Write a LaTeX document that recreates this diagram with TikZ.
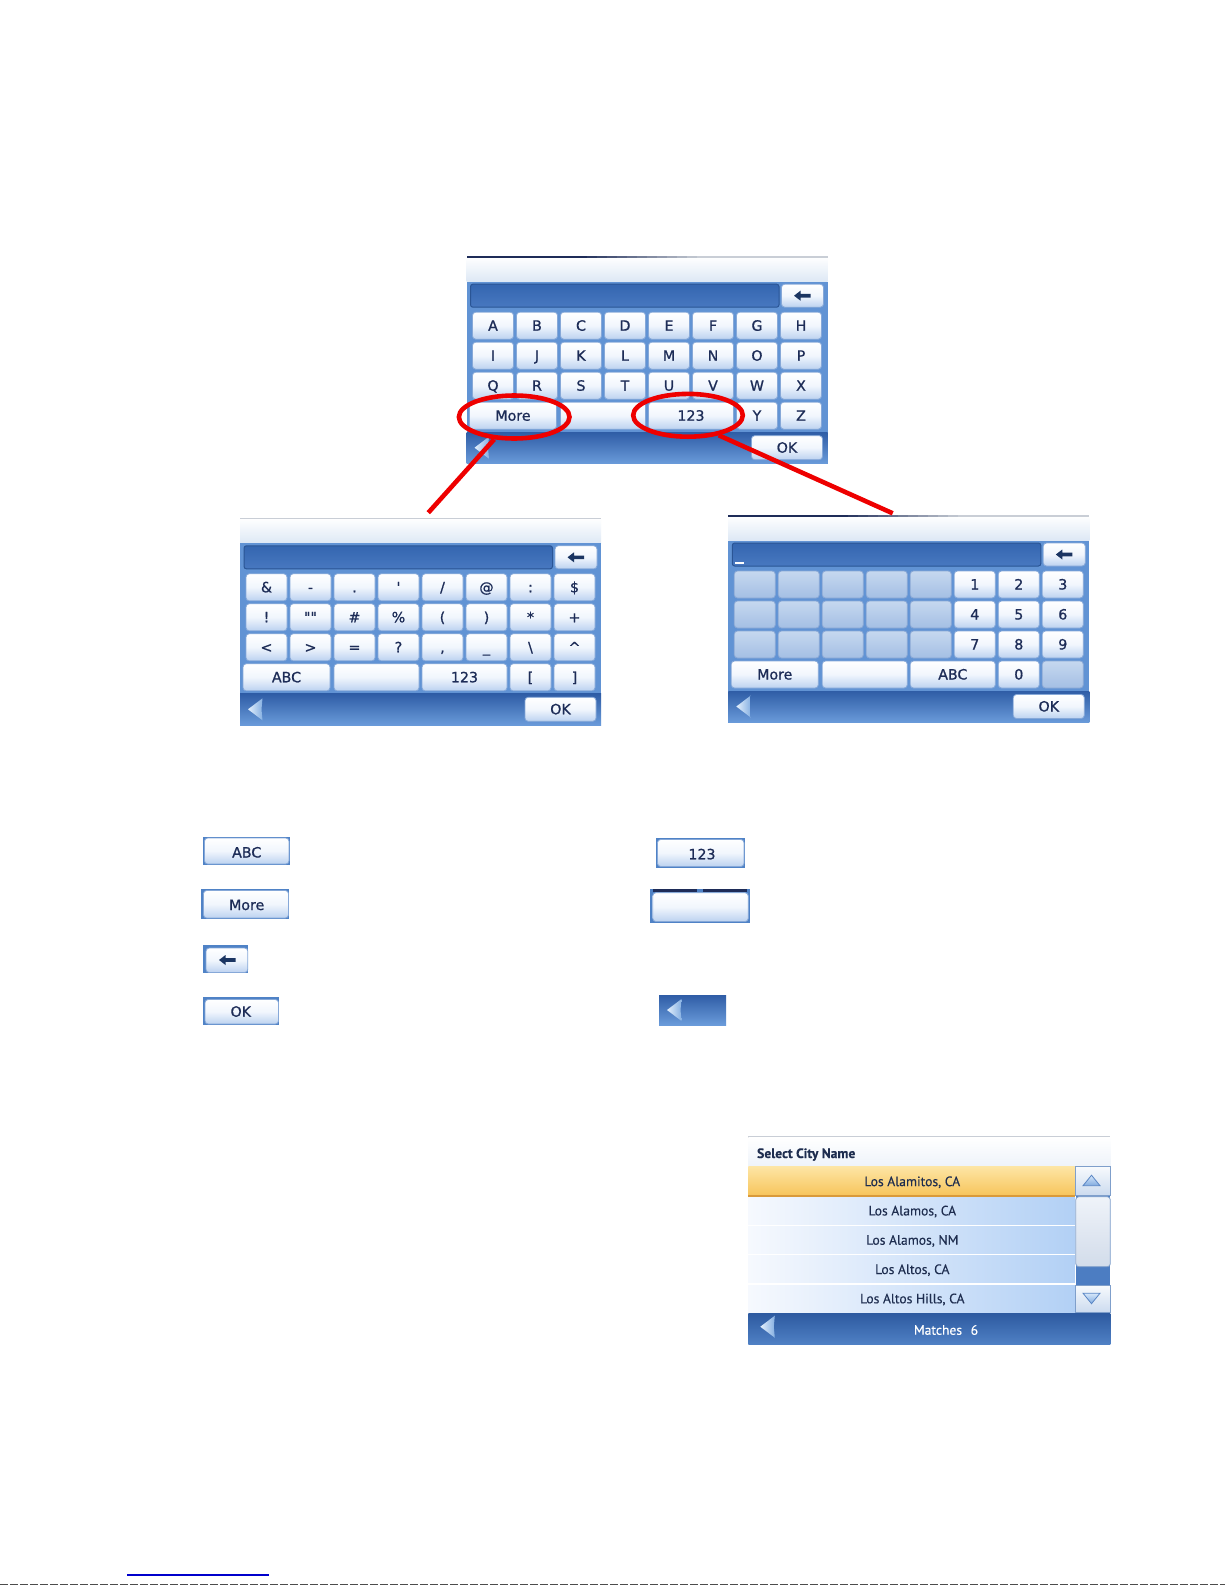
\documentclass[tikz,border=0pt]{standalone}
\usepackage{fontspec}
\setmainfont{DejaVu Sans}
\newfontfamily\keyfont{DejaVu Sans}[Ligatures=TeXOff, FakeBold=0.9]
\newfontfamily\listfont{PT Sans}[FakeBold=0.3]
\usetikzlibrary{shapes.geometric}

\definecolor{hdrbot}{HTML}{DDE8F5}
\definecolor{bodyblue}{HTML}{6193D4}
\definecolor{barTop}{HTML}{2F5DA6}
\definecolor{barBot}{HTML}{6A9BDA}
\definecolor{inputTop}{HTML}{3466B0}
\definecolor{inputBot}{HTML}{4878C0}
\definecolor{inputEdge}{HTML}{2A5595}
\definecolor{keyedge}{HTML}{86A8D8}
\definecolor{keymid}{HTML}{F1F6FD}
\definecolor{keybot}{HTML}{BCD2F0}
\definecolor{keytext}{HTML}{1D2C57}
\definecolor{gktop}{HTML}{C6D8EF}
\definecolor{gkbot}{HTML}{A4BFE4}
\definecolor{gkedge}{HTML}{8AA8D5}
\definecolor{arrownavy}{HTML}{1B3562}
\definecolor{tril}{HTML}{E4F0FC}
\definecolor{trid}{HTML}{86B0E2}
\definecolor{topnavy}{HTML}{1E2C58}
\definecolor{toplight}{HTML}{C9CED6}
\definecolor{redc}{HTML}{EE0000}
\definecolor{legframe}{HTML}{4F82C6}
\definecolor{listblue}{HTML}{B2D0F5}
\definecolor{listwhite}{HTML}{F6F9FE}
\definecolor{yTop}{HTML}{FDE5A4}
\definecolor{yBot}{HTML}{F7C45A}
\definecolor{yEdge}{HTML}{D99A3A}
\definecolor{scTop}{HTML}{F7FAFD}
\definecolor{scBot}{HTML}{CCDBEF}
\definecolor{scEdge}{HTML}{7F9FCB}
\definecolor{thTop}{HTML}{EFF3F9}
\definecolor{thBot}{HTML}{D2DCEA}
\definecolor{track}{HTML}{4C7DC2}
\definecolor{listtext}{HTML}{1E2D4F}
\definecolor{sbarTop}{HTML}{2D5AA0}
\definecolor{sbarBot}{HTML}{5081C5}
\definecolor{hdrlist}{HTML}{EEF3FA}
\definecolor{linkblue}{HTML}{0000CC}
\definecolor{arrTop}{HTML}{D6E7FA}
\definecolor{arrBot}{HTML}{7FAADF}
\definecolor{arrEdge}{HTML}{5A86C4}

\tikzset{
  keyface/.style={rounded corners=1.6pt, draw=keyedge, line width=0.4pt,
    top color=white, bottom color=keybot, middle color=keymid},
  greykey/.style={rounded corners=1.6pt, draw=gkedge, line width=0.4pt,
    top color=gktop, bottom color=gkbot},
  klabel/.style={font=\keyfont\fontsize{7.1pt}{8pt}\selectfont, text=keytext,
    inner sep=0pt, anchor=base},
  litem/.style={font=\listfont\fontsize{6.8pt}{8pt}\selectfont, text=listtext,
    inner sep=0pt, anchor=base},
  redring/.style={ellipse, draw=redc, line width=2.3pt, inner sep=0pt},
  redline/.style={draw=redc, line width=2.3pt},
  scbtn/.style={draw=scEdge, line width=0.4pt, top color=scTop, bottom color=scBot},
  thumbbox/.style={rounded corners=1.5pt, draw=scEdge, line width=0.4pt,
    top color=thTop, bottom color=thBot},
  scarrow/.style={draw=arrEdge, line width=0.4pt, top color=arrTop, bottom color=arrBot},
}

\newcommand{\kkey}[4]{%
  \draw[keyface] ({6+44*(#1)},{55.5+30*(#2)}) rectangle ++(41,27);
  \node[klabel] (#3) at ({26.5+44*(#1)},{74+30*(#2)}) {#4};}
\newcommand{\gkey}[2]{%
  \draw[greykey] ({6+44*(#1)},{55.5+30*(#2)}) rectangle ++(41,27);}
\newcommand{\wkey}[4]{%
  \draw[keyface] (#1,145.5) rectangle (#2,172.5);
  \node[klabel] (#3) at ({(#1+#2)/2},164) {#4};}
\newcommand{\bkey}[2]{\draw[keyface] (#1,145.5) rectangle (#2,172.5);}
\newcommand{\bsglyph}[2]{%
  \fill[arrownavy] ({#1-8.5},#2) -- ({#1-2},{#2-5}) -- ({#1-2},{#2-1.8})
    -- ({#1+8},{#2-1.8}) -- ({#1+8},{#2+1.8}) -- ({#1-2},{#2+1.8})
    -- ({#1-2},{#2+5}) -- cycle;}
\newcommand{\backtri}[2]{%
  \shade[left color=tril, right color=trid] (#1,#2) -- ({#1+14.5},{#2-11})
    -- ({#1+13.5},#2) -- ({#1+14.5},{#2+11}) -- cycle;}
\newcommand{\screenbase}[2]{%
  \shade[top color=white, bottom color=hdrbot] (0,0) rectangle (361,25);
  \fill[bodyblue] (0,25) rectangle (361,207);
  \shade[top color=barTop, bottom color=barBot] (0,175.5) rectangle (361,207);
  \draw[draw=inputEdge, line width=0.5pt, top color=inputTop, bottom color=inputBot,
    rounded corners=1.2pt] (4,27.5) rectangle (312.5,50.5);
  \draw[keyface] (315,27.5) rectangle (357,50.5);
  \bsglyph{336}{39}
  \draw[keyface] (285,179) rectangle (356,203);
  \node[klabel] (#1ok) at (320.5,196) {OK};
  \backtri{8}{191}
  \ifnum#2=1
    \fill[topnavy] (0,-1) rectangle (110,1);
    \foreach \k in {0,...,11} {%
      \pgfmathsetmacro{\pct}{100-\k*8.5}%
      \fill[topnavy!\pct!toplight] ({110+10*\k},-1) rectangle ({120.4+10*\k},1);}
    \fill[toplight] (230,-1) rectangle (361,1);
  \else
    \fill[toplight] (0,-0.8) rectangle (361,0.8);
  \fi}

\begin{document}
\begin{tikzpicture}[x=0.5pt,y=-0.5pt]
\fill[white] (0,0) rectangle (1225,1585);
\useasboundingbox (0,0) rectangle (1225,1585);

% ---------- screen 1: letters ----------
\begin{scope}[shift={(466.5,256.7)}]
  \screenbase{s1}{1}
  \foreach \lab [count=\c from 0] in {A,B,C,D,E,F,G,H} {\kkey{\c}{0}{s1a\c}{\lab}}
  \foreach \lab [count=\c from 0] in {I,J,K,L,M,N,O,P} {\kkey{\c}{1}{s1b\c}{\lab}}
  \foreach \lab [count=\c from 0] in {Q,R,S,T,U,V,W,X} {\kkey{\c}{2}{s1c\c}{\lab}}
  \wkey{3}{90}{s1more}{More}
  \bkey{94}{179}
  \wkey{182}{267}{s1num}{123}
  \kkey{6}{3}{s1y}{Y}
  \kkey{7}{3}{s1z}{Z}
\end{scope}

% ---------- screen 2: symbols ----------
\begin{scope}[shift={(240,518.3)}]
  \screenbase{s2}{0}
  \foreach \lab [count=\c from 0] in {{\&},{-},{.},{'},{/},{@},{:},{\$}} {\kkey{\c}{0}{s2a\c}{\lab}}
  \foreach \lab [count=\c from 0] in {{!},{""},{\#},{\%},{(},{)},{*},{+}} {\kkey{\c}{1}{s2b\c}{\lab}}
  \foreach \lab [count=\c from 0] in {{<},{>},{=},{?},{,},{\_},{\textbackslash},{\textasciicircum}} {\kkey{\c}{2}{s2c\c}{\lab}}
  \wkey{3}{90}{s2abc}{ABC}
  \bkey{94}{179}
  \wkey{182}{267}{s2num}{123}
  \kkey{6}{3}{s2lb}{[}
  \kkey{7}{3}{s2rb}{]}
\end{scope}

% ---------- screen 3: numbers ----------
\begin{scope}[shift={(728.3,515.5)}]
  \screenbase{s3}{1}
  \draw[white, line width=1pt] (7,47) -- (16,47);
  \foreach \r in {0,1,2} {\foreach \c in {0,...,4} {\gkey{\c}{\r}}}
  \foreach \lab [count=\c from 5] in {1,2,3} {\kkey{\c}{0}{s3d\lab}{\lab}}
  \foreach \lab [count=\c from 5] in {4,5,6} {\kkey{\c}{1}{s3d\lab}{\lab}}
  \foreach \lab [count=\c from 5] in {7,8,9} {\kkey{\c}{2}{s3d\lab}{\lab}}
  \wkey{3}{90}{s3more}{More}
  \bkey{94}{179}
  \wkey{182}{267}{s3abc}{ABC}
  \kkey{6}{3}{s3d0}{0}
  \gkey{7}{3}
\end{scope}

% ---------- red marks ----------
\node[redring, minimum width=55.3pt, minimum height=21.5pt] (e1) at (514.2,417) {};
\node[redring, minimum width=54.8pt, minimum height=21.4pt] (e2) at (688,415.3) {};
\coordinate (c1) at (428.3,512.7);
\coordinate (c2) at (892.7,513.3);
\draw[redline] (e1) -- (c1);
\draw[redline] (e2.-33) -- (c2);

% ---------- legend buttons ----------
\fill[legframe] (203,836.7) rectangle (290,865);
\draw[keyface] (204.5,838) rectangle (289,864);
\node[klabel] (lgabc) at (246.7,857.5) {ABC};

\fill[legframe] (200.7,889.3) rectangle (289.3,919.3);
\draw[keyface] (203.5,890.5) rectangle (288.5,918);
\node[klabel] (lgmore) at (246.7,910) {More};

\fill[legframe] (202.7,945) rectangle (248.3,973.3);
\draw[keyface] (206,948) rectangle (247.8,972.5);
\bsglyph{227.5}{960}

\fill[legframe] (202.7,997.3) rectangle (279.3,1025);
\draw[keyface] (205,999.5) rectangle (278.5,1024);
\node[klabel] (lgok) at (240.8,1016.7) {OK};

\fill[legframe] (656,838.3) rectangle (745,867.7);
\draw[keyface] (657.5,839.5) rectangle (744,866.5);
\node[klabel] (lgnum) at (702,859.3) {123};

\fill[legframe] (650,889) rectangle (750,922.7);
\fill[topnavy] (653,889) rectangle (697,891.7);
\fill[topnavy] (703,889) rectangle (747,891.7);
\draw[keyface] (652.7,892.7) rectangle (748.3,921.5);

\shade[top color=barTop, bottom color=barBot] (659,995) rectangle (726,1025);
\backtri{667}{1010}

% ---------- screen 4: city list ----------
\begin{scope}[shift={(748.3,1136.7)}]
  \fill[toplight] (0,-0.8) rectangle (362,0.8);
  \shade[top color=white, bottom color=hdrlist] (0,0.8) rectangle (362,30);
  \node[litem, font=\listfont\bfseries\fontsize{6.8pt}{8pt}\selectfont, anchor=base west]
    (s4title) at (8.4,21.3) {Select City Name};
  \shade[top color=yTop, bottom color=yBot] (0,30) rectangle (326.7,59.3);
  \foreach \i in {1,...,4} {\shade[left color=listwhite, right color=listblue]
    (0,{30+29.3*\i}) rectangle (326.7,{59.3+29.3*\i});}
  \draw[yEdge, line width=0.6pt] (0,59.3) -- (326.7,59.3);
  \foreach \i in {2,3,4} {\draw[white, line width=0.6pt] (0,{30+29.3*\i}) -- (326.7,{30+29.3*\i});}
  \fill[track] (326.7,30) rectangle (362,176.5);
  \draw[white, line width=0.5pt] (327,30) -- (327,176.5);
  \draw[scbtn] (327.5,30) rectangle (362,58.3);
  \draw[thumbbox] (327.5,60) rectangle (362,130);
  \draw[scbtn] (327.5,148.3) rectangle (362,175.5);
  \draw[scarrow] (343.2,38.5) -- (351.7,49) -- (334.7,49) -- cycle;
  \draw[scarrow] (343.2,167) -- (351.7,156.5) -- (334.7,156.5) -- cycle;
  \shade[top color=sbarTop, bottom color=sbarBot] (0,176.5) rectangle (362,208);
  \backtri{12}{190}
  \node[litem] (city1) at (164,49.4) {Los Alamitos, CA};
  \node[litem] (city2) at (164,78.7) {Los Alamos, CA};
  \node[litem] (city3) at (164,108) {Los Alamos, NM};
  \node[litem] (city4) at (164,137.3) {Los Altos, CA};
  \node[litem] (city5) at (164,166.6) {Los Altos Hills, CA};
  \node[litem, text=white] (s4matches) at (197.7,198) {Matches\hspace{2.5pt} 6};
\end{scope}

% ---------- page foot ----------
\draw[linkblue, line width=0.8pt] (127,1575) -- (269,1575);
\draw[black!70, line width=0.7pt, dash pattern=on 4pt off 1pt] (0,1584.4) -- (1225,1584.4);
\end{tikzpicture}
\end{document}
